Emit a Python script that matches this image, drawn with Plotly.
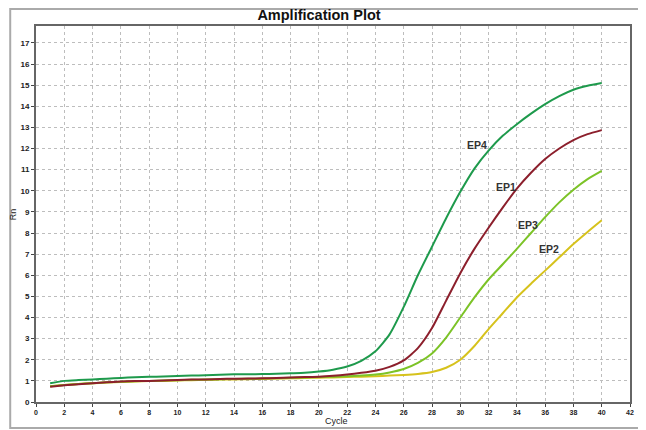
import plotly.graph_objects as go

cycles = list(range(1, 41))

ep4 = [0.89, 1.00, 1.04, 1.07, 1.10, 1.14, 1.17, 1.19, 1.21, 1.23,
       1.25, 1.27, 1.29, 1.31, 1.31, 1.32, 1.34, 1.36, 1.38, 1.44,
       1.53, 1.68, 1.95, 2.40, 3.20, 4.50, 6.00, 7.35, 8.70, 9.95,
       11.05, 11.90, 12.60, 13.15, 13.65, 14.10, 14.48, 14.78, 14.97, 15.10]
ep1 = [0.72, 0.79, 0.84, 0.89, 0.93, 0.97, 0.99, 1.00, 1.02, 1.04,
       1.06, 1.07, 1.09, 1.10, 1.11, 1.12, 1.14, 1.16, 1.18, 1.20,
       1.24, 1.30, 1.38, 1.48, 1.66, 1.97, 2.55, 3.50, 4.80, 6.10,
       7.25, 8.25, 9.20, 10.10, 10.85, 11.50, 12.00, 12.40, 12.68, 12.87]
ep3 = [0.74, 0.80, 0.85, 0.89, 0.93, 0.96, 0.98, 1.00, 1.02, 1.03,
       1.05, 1.06, 1.08, 1.09, 1.10, 1.11, 1.13, 1.15, 1.16, 1.18,
       1.20, 1.22, 1.25, 1.30, 1.40, 1.56, 1.85, 2.30, 3.05, 4.00,
       4.95, 5.80, 6.52, 7.25, 8.00, 8.75, 9.45, 10.05, 10.55, 10.94]
ep2 = [0.75, 0.80, 0.85, 0.89, 0.92, 0.95, 0.97, 0.99, 1.00, 1.02,
       1.03, 1.05, 1.06, 1.07, 1.08, 1.09, 1.11, 1.12, 1.14, 1.15,
       1.16, 1.18, 1.20, 1.22, 1.25, 1.28, 1.33, 1.42, 1.62, 2.00,
       2.65, 3.45, 4.20, 4.95, 5.60, 6.22, 6.85, 7.48, 8.05, 8.60]

series = [
    ('EP2', ep2, '#d6c21c'),
    ('EP3', ep3, '#7cc327'),
    ('EP1', ep1, '#8c1f2c'),
    ('EP4', ep4, '#1e9a4c'),
]

# label positions (cycle, Rn)
labels = {'EP4': (31.2, 12.16), 'EP1': (33.2, 10.2), 'EP3': (34.8, 8.4), 'EP2': (36.3, 7.26)}

# page body adds ~8px offset, so the figure is a bit smaller than the window
W, H = 638, 422
L, R, T, B = 27, 12, 18, 28
pw, ph = W - L - R, H - T - B

fig = go.Figure()
for name, vals, col in series:
    fig.add_trace(go.Scatter(
        x=cycles, y=vals, mode='lines', name=name,
        line=dict(color=col, width=2, shape='spline', smoothing=0.6),
        showlegend=False
    ))

for name, (lx, ly) in labels.items():
    fig.add_annotation(x=lx, y=ly, text=name, showarrow=False,
                       font=dict(family='Liberation Sans', size=10.5, color='#333333', weight='bold'))

fig.update_layout(
    width=W, height=H,
    margin=dict(l=L, r=R, t=T, b=B),
    paper_bgcolor='white', plot_bgcolor='white',
    font=dict(family='Liberation Sans', color='#222222'),
    title=dict(text='<b>Amplification Plot</b>', x=311 / W, xanchor='center',
               y=1 - 7 / H, yanchor='middle',
               font=dict(family='Liberation Sans', size=14.5, color='#111111')),
)

fig.update_xaxes(
    range=[0, 42], tickmode='linear', tick0=0, dtick=2,
    showgrid=True, gridcolor='#bdbdbd', griddash='dot', gridwidth=1,
    showline=True, linecolor='#666666', linewidth=2, mirror=True,
    ticks='outside', ticklen=3, tickcolor='#444444',
    tickfont=dict(size=7, color='#222222', weight='bold'), zeroline=False,
)
fig.update_yaxes(
    range=[0, 17.8], tickmode='linear', tick0=0, dtick=1,
    showgrid=True, gridcolor='#bdbdbd', griddash='dot', gridwidth=1,
    showline=True, linecolor='#666666', linewidth=2, mirror=True,
    ticks='outside', ticklen=3, tickcolor='#444444',
    tickfont=dict(size=8, color='#222222', weight='bold'), zeroline=False,
)

fig.add_annotation(xref='paper', yref='paper', x=(330 - L) / pw, y=-19 / ph,
                   xanchor='center', yanchor='middle',
                   text='Cycle', showarrow=False, font=dict(size=9, color='#222222'))
fig.add_annotation(xref='paper', yref='paper', x=(4 - L) / pw, y=0.5, textangle=-90,
                   xanchor='center', yanchor='middle',
                   text='Rn', showarrow=False, font=dict(size=9, color='#222222'))

# light frame around whole picture
fig.add_shape(type='rect', xref='paper', yref='paper',
              x0=(1 - L) / pw, x1=(636 - L) / pw, y0=-(420 - T - ph) / ph, y1=1 + (T - 1) / ph,
              line=dict(color='#aaaaaa', width=2), layer='below')

fig.write_html('out.html')
